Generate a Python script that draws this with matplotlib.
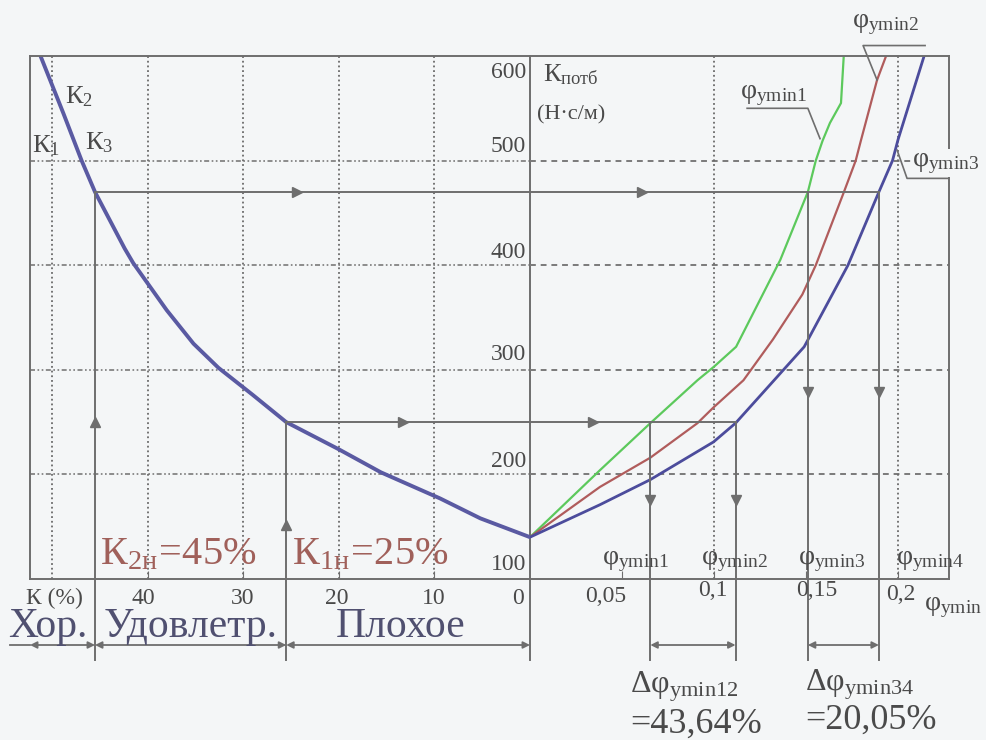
import matplotlib.pyplot as plt

plt.rcParams['font.family'] = ['Liberation Serif', 'DejaVu Serif']
plt.rcParams['mathtext.fontset'] = 'custom'
plt.rcParams['mathtext.rm'] = 'Liberation Serif'
plt.rcParams['mathtext.it'] = 'Liberation Serif:italic'
plt.rcParams['mathtext.bf'] = 'Liberation Serif:bold'

# левая часть: К (%) -> К_потб
k_pct = [51.2, 48.8, 46.9, 45.5, 42.4, 41.5, 38.0, 35.2, 32.6, 29.0, 25.5, 20.0, 15.6, 9.4, 5.2, 0]
k_potb = [600, 545, 500, 470, 416, 402, 357, 325, 302, 276, 250, 224, 202, 177, 158, 140]

# правая часть: phi_ymin -> К_потб
phi_g = [0, 0.038, 0.0654, 0.091, 0.1, 0.112, 0.136, 0.151, 0.1553, 0.159, 0.163, 0.169, 0.1705]
kp_g = [140, 204, 249, 290, 303, 322, 405, 470, 500, 519, 536, 555, 600]
phi_r = [0, 0.038, 0.0654, 0.091, 0.0997, 0.116, 0.132, 0.148, 0.1553, 0.1706, 0.177, 0.1798, 0.1886, 0.1935]
kp_r = [140, 188, 216, 249, 264, 290, 329, 372, 400, 470, 500, 519, 577, 600]
phi_b = [0, 0.038, 0.0654, 0.0997, 0.1117, 0.149, 0.1728, 0.1896, 0.197, 0.2, 0.214]
kp_b = [140, 171, 195, 231, 249, 322, 400, 470, 500, 520, 599]

k_norm = [45.5, 25.5]        # K2н = 45 %, K1н = 25 %
kp_levels = [470, 250]
phi_marks = [0.0654, 0.1117, 0.151, 0.1896]   # phi_ymin1..4

W, H = 986, 740
GREY = '#6e6e6e'
TXT = '#4a4a4a'
BG = '#f4f6f7'

def px(x, y):
    return x / W, 1 - y / H

fig = plt.figure(figsize=(W / 100, H / 100), dpi=100)
fig.patch.set_facecolor(BG)
axL = fig.add_axes([30 / W, (H - 579) / H, 500 / W, 523 / H])
axR = fig.add_axes([530 / W, (H - 579) / H, 419 / W, 523 / H])
axL.set_xlim(52.3, 0)
axR.set_xlim(0, 0.2277)
for ax in (axL, axR):
    ax.set_ylim(100, 600)
    ax.set_facecolor('none')
    ax.set_yticks([])
    for s in ax.spines.values():
        s.set_color(GREY)
        s.set_linewidth(1.4)
    ax.tick_params(axis='x', direction='in', length=6, color=GREY, labelbottom=False)
axL.spines['right'].set_visible(False)
axR.spines['left'].set_visible(False)
axL.set_xticks([40, 30, 20, 10])
axR.set_xticks([0.05, 0.1, 0.15, 0.2])

low = 22.6
dim_y = 36.9

# сетка
for v in [200, 300, 400, 500]:
    axL.plot([52.3, 0], [v, v], color='#7a7a7a', lw=1.2, ls=(0, (3, 1.5, 1, 1.5, 1, 1.5)))
    axR.plot([0, 0.2277], [v, v], color='#7a7a7a', lw=1.4, ls=(0, (3, 2.5)))
for k in [50, 40, 30, 20, 10]:
    axL.plot([k, k], [100, 600], color='#6a6a6a', lw=1.3, ls=(0, (1, 1.6)))
for p in [0.1, 0.2]:
    axR.plot([p, p], [100, 600], color='#6a6a6a', lw=1.3, ls=(0, (1, 1.6)))

# ось К_потб
axL.plot([0, 0], [low, 600], color=GREY, lw=1.4, clip_on=False)

# кривые
axL.plot(k_pct, k_potb, color='#5a5aa2', lw=2.8, solid_capstyle='round', solid_joinstyle='round')
axR.plot(phi_g, kp_g, color='#5cc95c', lw=1.6)
axR.plot(phi_r, kp_r, color='#b05c5c', lw=1.6)
axR.plot(phi_b, kp_b, color='#4c4c9c', lw=2)

# построения
for k, lvl in zip(k_norm, kp_levels):
    axL.plot([k, 0], [lvl, lvl], color=GREY, lw=1.4)
    axL.plot([k, k], [lvl, low], color=GREY, lw=1.4, clip_on=False)
axR.plot([0, phi_marks[3]], [kp_levels[0]] * 2, color=GREY, lw=1.4)
axR.plot([0, phi_marks[1]], [kp_levels[1]] * 2, color=GREY, lw=1.4)
for i, p in enumerate(phi_marks):
    lvl = kp_levels[1] if i < 2 else kp_levels[0]
    axR.plot([p, p], [lvl, low], color=GREY, lw=1.4, clip_on=False)

mk = dict(color=GREY, ms=7, ls='none', clip_on=False)
axL.plot([24.4, 13.3], [470, 250], marker='>', **mk)
axR.plot([0.0609, 0.0342], [470, 250], marker='>', **mk)
axL.plot(k_norm, [250, 151.6], marker='^', **mk)
axR.plot(phi_marks, [175.5, 175.5, 279, 279], marker='v', **mk)

# размерные линии
ap = dict(arrowstyle='<|-|>', color=GREY, lw=1.3, mutation_scale=10, shrinkA=0, shrinkB=0)
axL.plot([54.4, 52.3], [dim_y, dim_y], color=GREY, lw=1.3, clip_on=False)
for a, b in [(52.3, k_norm[0]), (k_norm[0], k_norm[1]), (k_norm[1], 0)]:
    axL.annotate('', xy=(b, dim_y), xytext=(a, dim_y), arrowprops=ap, annotation_clip=False)
for a, b in [(phi_marks[0], phi_marks[1]), (phi_marks[2], phi_marks[3])]:
    axR.annotate('', xy=(b, dim_y), xytext=(a, dim_y), arrowprops=ap, annotation_clip=False)

# выноски
axR.plot([0.118, 0.151, 0.1576], [550, 550, 521], color=GREY, lw=1.2)
axR.plot([0.2147, 0.181, 0.1886], [610, 610, 577], color=GREY, lw=1.2, clip_on=False)
axR.plot([0.1995, 0.2049, 0.2277], [510, 483, 483], color=GREY, lw=1.2)

# подписи
def t(x, y, s, size=17, color=TXT, va='center', **kw):
    return fig.text(*px(x, y), s, fontsize=size, color=color, va=va, **kw)

for v, y in zip([600, 500, 400, 300, 200, 100], [72, 147, 252, 355, 462, 565]):
    t(526, y, str(v), ha='right')
t(543, 75, r'$\mathregular{К_{потб}}$', size=19, ha='left')
t(537, 115, '(Н·с/м)', size=16, ha='left')
t(65, 97, r'$\mathregular{К_2}$', size=19, ha='left')
t(32, 146, r'$\mathregular{К_1}$', size=19, ha='left')
t(85, 143, r'$\mathregular{К_3}$', size=19, ha='left')
t(740, 95, r'$\mathregular{φ_{ymin1}}$', size=20, ha='left')
t(852, 24, r'$\mathregular{φ_{ymin2}}$', size=20, ha='left')
t(912, 163, r'$\mathregular{φ_{ymin3}}$', size=20, ha='left',
  bbox=dict(facecolor=BG, edgecolor='none', pad=1))

for lab, x in zip(['К (%)', '40', '30', '20', '10', '0'], [54, 143, 243, 337, 434, 518]):
    t(x, 598, lab, size=17, ha='center')
for lab, x, y in zip(['0,05', '0,1', '0,15', '0,2'], [606, 713, 817, 901], [597, 590, 590, 595]):
    t(x, y, lab, size=17, ha='center')
t(953, 608, r'$\mathregular{φ_{ymin}}$', size=20, ha='center')
for i, x in enumerate([635, 734, 832, 930]):
    t(x, 562, r'$\mathregular{φ_{ymin%d}}$' % (i + 1), size=20, ha='center')

RED = '#a0605a'
t(100, 555, r'$\mathregular{К_{2н}\!=\!45\%}$', size=29, color=RED, ha='left')
t(292, 555, r'$\mathregular{К_{1н}\!=\!25\%}$', size=29, color=RED, ha='left')
BLU = '#505070'
t(8, 627, 'Хор.', size=30, color=BLU, ha='left')
t(104, 627, 'Удовлетр.', size=30, color=BLU, ha='left')
t(336, 627, 'Плохое', size=30, color=BLU, ha='left')

t(630, 693, r'$\mathregular{Δφ_{ymin12}}$', size=23, ha='left', va='baseline')
t(630, 733, '=43,64%', size=26, ha='left', va='baseline')
t(805, 691, r'$\mathregular{Δφ_{ymin34}}$', size=23, ha='left', va='baseline')
t(805, 729, '=20,05%', size=26, ha='left', va='baseline')

fig.savefig('out.png', dpi=100, facecolor=fig.get_facecolor())
